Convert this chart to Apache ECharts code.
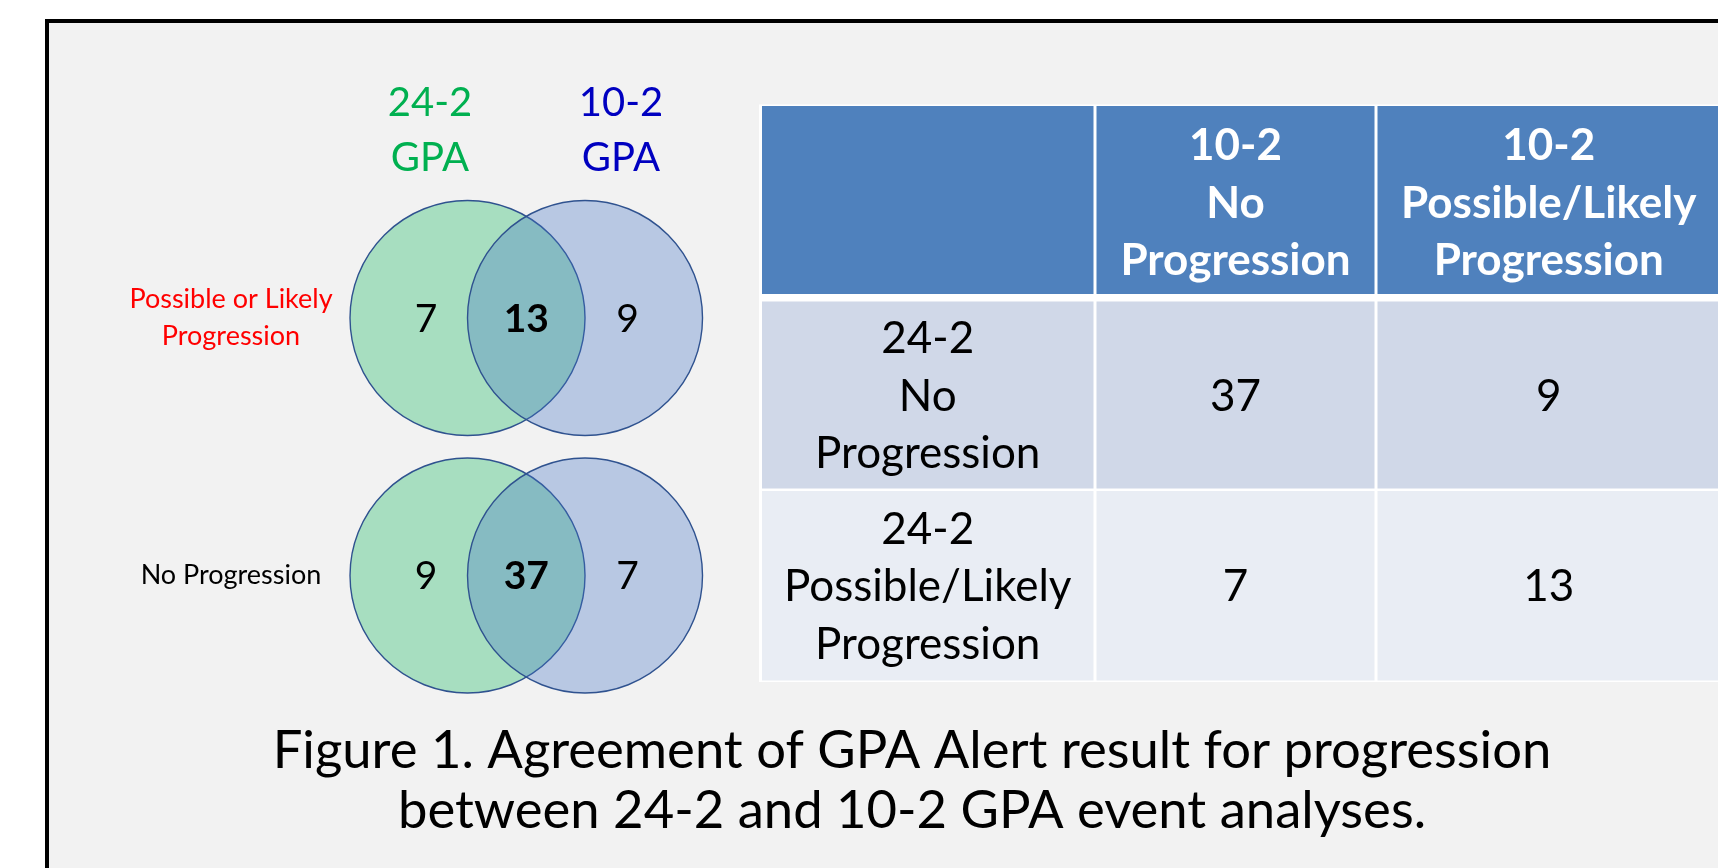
<!DOCTYPE html>
<html><head><meta charset="utf-8">
<script src="https://cdn.jsdelivr.net/npm/echarts@6/dist/echarts.min.js"></script>
<style>html,body{margin:0;padding:0;background:#fff}#c{width:1718px;height:868px}</style>
</head><body><div id="c"></div>
<script>
// ---------- data ----------
const setNames = ['24-2\nGPA', '10-2\nGPA'];
const vennRowLabels = ['Possible or Likely\nProgression', 'No Progression'];
// counts per Venn row: [24-2 only, both, 10-2 only]
const vennPossible = [7, 13, 9];
const vennNone = [9, 37, 7];
const tableColHeaders = ['', '10-2\nNo\nProgression', '10-2\nPossible/Likely\nProgression'];
const tableRowHeaders = ['24-2\nNo\nProgression', '24-2\nPossible/Likely\nProgression'];
const tableRowNo = [37, 9];
const tableRowPossible = [7, 13];
const caption = 'Figure 1. Agreement of GPA Alert result for progression\nbetween 24-2 and 10-2 GPA event analyses.';

// ---------- layout / style ----------
const FONT = 'Lato';
const setColors = ['#00B050', '#0000C0'];
const setFills = ['rgba(0,176,80,0.31)', 'rgba(68,114,196,0.33)'];
const rowLabelColors = ['#FF0000', '#000000'];
const regionX = [-0.353, 0.5, 1.362];
const colW = [336, 281, 345.5];
const rowH = [193.25, 192, 192.25];
const rowFills = ['#4F81BD', '#D0D8E8', '#E9EDF4'];
const colEdges = [0]; colW.forEach(w => colEdges.push(colEdges[colEdges.length - 1] + w));
const rowEdges = [0]; rowH.forEach(h => rowEdges.push(rowEdges[rowEdges.length - 1] + h));

// ---------- build series data ----------
const vennCounts = [vennPossible, vennNone];
const circleData = [];
vennCounts.forEach((_, r) => setNames.forEach((_, s) => circleData.push([s, r])));
const countData = [];
vennCounts.forEach((arr, r) => arr.forEach((v, k) => countData.push([regionX[k], r, v, k])));

const tableCells = [];
tableColHeaders.forEach((h, c) => tableCells.push([c, 0, h]));
[tableRowNo, tableRowPossible].forEach((vals, i) => {
  tableCells.push([0, i + 1, tableRowHeaders[i]]);
  vals.forEach((v, j) => tableCells.push([j + 1, i + 1, String(v)]));
});

const chart = echarts.init(document.getElementById('c'), null, {renderer: 'canvas'});
const hidden = {show: false};
const rowLabelStyle = {fontSize: 27, lineHeight: 37, align: 'center', fontFamily: FONT};
chart.setOption({
  animation: false,
  backgroundColor: '#ffffff',
  textStyle: {fontFamily: FONT},
  graphic: [
    {type: 'rect', z: -10, silent: true, shape: {x: 47, y: 21, width: 1800, height: 950},
     style: {fill: '#F2F2F2', stroke: '#000000', lineWidth: 4}},
    {type: 'text', z: 10, silent: true, x: 912, y: 781,
     style: {text: caption, align: 'center', verticalAlign: 'middle', fontSize: 52.6, lineHeight: 60,
             fontFamily: FONT, fill: '#000000'}}
  ],
  grid: [
    {left: 334.5, top: 189.25, width: 382, height: 515, outerBoundsMode: 'none', containLabel: false},
    {left: 759, top: 104.5, width: colEdges[3], height: rowEdges[3], outerBoundsMode: 'none', containLabel: false,
     show: true, backgroundColor: '#ffffff', borderWidth: 0}
  ],
  xAxis: [
    {type: 'value', gridIndex: 0, min: -1.132, max: 2.119, show: false},
    {type: 'category', gridIndex: 0, position: 'top',
     data: setNames.map((n, i) => ({value: n, textStyle: {color: setColors[i], fontSize: 40, lineHeight: 55}})),
     axisLine: hidden, axisTick: hidden, splitLine: hidden,
     axisLabel: {fontSize: 40, lineHeight: 55, margin: 4, fontFamily: FONT}},
    {type: 'value', gridIndex: 1, min: 0, max: colEdges[3], show: false}
  ],
  yAxis: [
    {type: 'category', gridIndex: 0, inverse: true,
     data: vennRowLabels.map((n, i) => ({value: n, textStyle: Object.assign({color: rowLabelColors[i]}, rowLabelStyle)})),
     axisLine: hidden, axisTick: hidden, splitLine: hidden,
     axisLabel: Object.assign({margin: 103.5}, rowLabelStyle)},
    {type: 'value', gridIndex: 1, min: 0, max: rowEdges[3], inverse: true, show: false}
  ],
  series: [
    {type: 'custom', xAxisIndex: 0, yAxisIndex: 0, data: circleData, silent: true,
     renderItem(params, api) {
       const s = api.value(0);
       const c = api.coord([s, api.value(1)]);
       const r = api.size([1, 0])[0];
       return {type: 'circle', shape: {cx: c[0], cy: c[1], r: r},
               style: {fill: setFills[s], stroke: '#2F528F', lineWidth: 1.4}};
     }},
    {type: 'custom', xAxisIndex: 0, yAxisIndex: 0, data: countData, silent: true,
     renderItem(params, api) {
       const c = api.coord([api.value(0), api.value(1)]);
       const k = api.value(3);
       return {type: 'text', style: {text: String(api.value(2)), x: c[0], y: c[1] + 1,
               align: 'center', verticalAlign: 'middle', fontSize: 39, fontFamily: FONT,
               fontWeight: k === 1 ? 'bold' : 'normal', fill: '#000000'}};
     }},
    {type: 'custom', xAxisIndex: 2, yAxisIndex: 1, data: tableCells.map(t => [t[0], t[1]]), silent: true,
     renderItem(params, api) {
       const cell = tableCells[params.dataIndex];
       const c = cell[0], r = cell[1];
       const p0 = api.coord([colEdges[c], rowEdges[r]]);
       const p1 = api.coord([colEdges[c + 1], rowEdges[r + 1]]);
       const li = c === 0 ? 3 : 1.5, ri = 1.5;
       const ti = r === 0 ? 1.5 : (r === 1 ? 3.75 : 1.25);
       const bi = r === 0 ? 3.75 : (r === 1 ? 1.25 : 1.5);
       const x = p0[0] + li, y = p0[1] + ti;
       const w = p1[0] - ri - x, h = p1[1] - bi - y;
       return {type: 'group', children: [
         {type: 'rect', shape: {x: x, y: y, width: w, height: h}, style: {fill: rowFills[r]}},
         {type: 'text', style: {text: cell[2], x: x + w / 2, y: y + h / 2 + (r === 0 ? 3.5 : 1.5),
           align: 'center', verticalAlign: 'middle', fontSize: 44, lineHeight: 57.5, fontFamily: FONT,
           fontWeight: r === 0 ? 'bold' : 'normal', fill: r === 0 ? '#ffffff' : '#000000'}}
       ]};
     }}
  ]
});
</script></body></html>
